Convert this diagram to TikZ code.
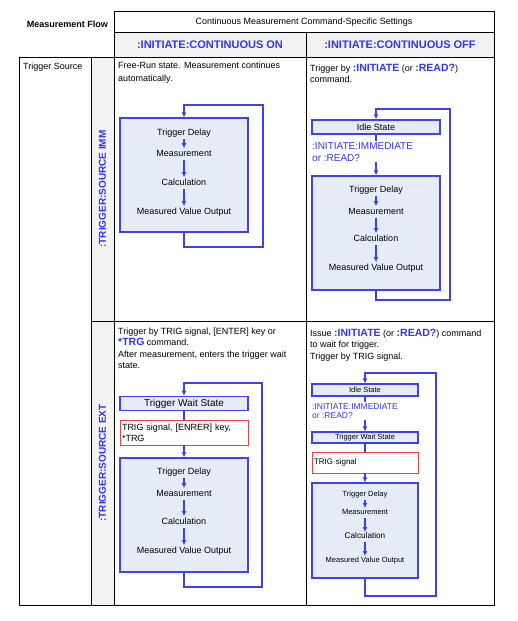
\documentclass[tikz,border=0pt]{standalone}
\usepackage{fontspec}
\setmainfont{Liberation Sans}
\usetikzlibrary{arrows.meta}
\definecolor{cmdblue}{RGB}{51,51,255}
\definecolor{flowblue}{RGB}{64,64,240}
\definecolor{boxfill}{RGB}{230,236,247}
\definecolor{headgray}{RGB}{242,242,242}
\definecolor{sigred}{RGB}{240,64,64}
\newcommand{\cmdtxt}[1]{{\fontsize{10.5}{11.5}\selectfont\bfseries\color{cmdblue}#1}}

\begin{document}
\begin{tikzpicture}[x=1pt, y=-1pt,
    grid/.style={line width=0.9pt},
    note/.style={align=left, anchor=north west, inner sep=0pt, font=\fontsize{9}{11.5}\selectfont},
    cmdbig/.style={font=\fontsize{11}{13}\selectfont\bfseries, text=cmdblue},
    srcbig/.style={rotate=90, font=\fontsize{10}{12}\selectfont\bfseries, text=cmdblue},
    cmdnote/.style={align=left, anchor=north west, inner sep=1pt, text=cmdblue},
    flowbox/.style={draw=flowblue, line width=1.1pt, fill=boxfill, inner sep=0pt},
    sigbox/.style={draw=sigred, line width=0.9pt, fill=white, align=left, inner ysep=1pt, inner xsep=2pt},
    steplabel/.style={font=\fontsize{9}{10}\selectfont, inner sep=1.5pt, text height=6.4pt, text depth=1.8pt},
    smallstep/.style={font=\fontsize{7.5}{9}\selectfont, inner sep=1.2pt, text height=5.5pt, text depth=1.6pt},
    flowline/.style={draw=flowblue, line width=1.1pt},
    flowarrow/.style={flowline, -{Latex[length=5pt,width=5pt]}}]
  \useasboundingbox (0,0) rectangle (517,621);

  \fill[headgray] (114,32) rectangle (494,57);
  \fill[headgray] (91,57) rectangle (114,605);
  \draw[grid] (114,11) rectangle (494,605);
  \draw[grid] (114,32) -- (494,32);
  \draw[grid] (19.5,57) -- (494,57);
  \draw[grid] (306,32) -- (306,605);
  \draw[grid] (19.5,57) -- (19.5,605) -- (114,605);
  \draw[grid] (91,57) -- (91,605);
  \draw[grid] (91,321) -- (494,321);

  \node[anchor=east, font=\fontsize{9}{10}\selectfont\bfseries] (flowtitle) at (111.5,24) {Measurement Flow};
  \node[font=\fontsize{9}{10}\selectfont] (settings) at (304,22) {Continuous Measurement Command-Specific Settings};
  \node[cmdbig] (conton) at (210,44.5) {:INITIATE:CONTINUOUS ON};
  \node[cmdbig] (contoff) at (400,44.5) {:INITIATE:CONTINUOUS OFF};
  \node[anchor=west, inner sep=0pt, font=\fontsize{9}{10}\selectfont] (trigsrc) at (23,67) {Trigger Source};
  \node[srcbig] (srcimm) at (102.5,189) {:TRIGGER:SOURCE IMM};
  \node[srcbig] (srcext) at (102.5,463) {:TRIGGER:SOURCE EXT};

  % continuous on, immediate
  \node[note, font=\fontsize{9}{13}\selectfont] (note1) at (118,61.5) {Free-Run state. Measurement continues\\automatically.};
  \node[flowbox, minimum width=128pt, minimum height=114pt] (box1) at (184,175) {};
  \node[steplabel] (td1) at (184,133) {Trigger Delay};
  \node[steplabel] (ms1) at (184,154) {Measurement};
  \node[steplabel] (ca1) at (184,183) {Calculation};
  \node[steplabel] (mv1) at (184,212) {Measured Value Output};
  \draw[flowarrow] (td1) -- (ms1);
  \draw[flowarrow] (ms1) -- (ca1);
  \draw[flowarrow] (ca1) -- (mv1);
  \coordinate (r1a) at (263,247);
  \coordinate (r1b) at (263,105);
  \draw[flowarrow] (box1.south) |- (r1a) -- (r1b) -| (box1.north);

  % continuous off, immediate
  \node[note] (note2) at (310,63.5) {Trigger by \cmdtxt{:INITIATE} (or \cmdtxt{:READ?})\\command.};
  \node[flowbox, minimum width=128pt, minimum height=14pt, font=\fontsize{9}{10}\selectfont] (idle2) at (376,127) {Idle State};
  \node[cmdnote, font=\fontsize{10}{12}\selectfont] (cmd2) at (311,141) {:INITIATE:IMMEDIATE\\or :READ?};
  \node[flowbox, minimum width=128pt, minimum height=114pt] (box2) at (376,233) {};
  \node[steplabel] (td2) at (376,190) {Trigger Delay};
  \node[steplabel] (ms2) at (376,212) {Measurement};
  \node[steplabel] (ca2) at (376,239) {Calculation};
  \node[steplabel] (mv2) at (376,268) {Measured Value Output};
  \draw[flowarrow] (td2) -- (ms2);
  \draw[flowarrow] (ms2) -- (ca2);
  \draw[flowarrow] (ca2) -- (mv2);
  \draw[flowline] (idle2) -- (idle2 |- cmd2.north);
  \draw[flowarrow] (idle2 |- cmd2.south) -- (box2);
  \coordinate (r2a) at (450,300);
  \coordinate (r2b) at (450,109);
  \draw[flowarrow] (box2.south) |- (r2a) -- (r2b) -| (idle2.north);

  % continuous on, external
  \node[note] (note3) at (118,327.5) {Trigger by TRIG signal, [ENTER] key or\\\cmdtxt{*TRG} command.\\After measurement, enters the trigger wait\\state.};
  \node[flowbox, minimum width=128pt, minimum height=14pt, font=\fontsize{10}{12}\selectfont] (wait3) at (184,403.5) {Trigger Wait State};
  \node[sigbox, text width=124pt, minimum height=25pt, font=\fontsize{9}{11}\selectfont] (trig3) at (184,432.5) {TRIG signal, [ENRER] key,\\{}*TRG};
  \node[flowbox, minimum width=128pt, minimum height=114pt] (box3) at (184,515) {};
  \node[steplabel] (td3) at (184,472) {Trigger Delay};
  \node[steplabel] (ms3) at (184,494) {Measurement};
  \node[steplabel] (ca3) at (184,522) {Calculation};
  \node[steplabel] (mv3) at (184,551) {Measured Value Output};
  \draw[flowarrow] (td3) -- (ms3);
  \draw[flowarrow] (ms3) -- (ca3);
  \draw[flowarrow] (ca3) -- (mv3);
  \draw[flowline] (wait3) -- (trig3);
  \draw[flowarrow] (trig3) -- (box3);
  \coordinate (r3a) at (262,587);
  \coordinate (r3b) at (262,383);
  \draw[flowarrow] (box3.south) |- (r3a) -- (r3b) -| (wait3.north);

  % continuous off, external
  \node[note] (note4) at (310,328.5) {Issue \cmdtxt{:INITIATE} (or \cmdtxt{:READ?}) command\\to wait for trigger.\\Trigger by TRIG signal.};
  \node[flowbox, minimum width=106pt, minimum height=12pt, font=\fontsize{7.5}{9}\selectfont] (idle4) at (365,390) {Idle State};
  \node[cmdnote, font=\fontsize{8.5}{9.5}\selectfont] (cmd4) at (311,402) {:INITIATE:IMMEDIATE\\or :READ?};
  \node[flowbox, minimum width=106pt, minimum height=11pt, font=\fontsize{7.5}{9}\selectfont] (wait4) at (365,437.5) {Trigger Wait State};
  \node[sigbox, text width=102pt, minimum height=21pt, font=\fontsize{8}{10}\selectfont] (trig4) at (365,462.5) {TRIG signal};
  \node[flowbox, minimum width=106pt, minimum height=95pt] (box4) at (365,530.5) {};
  \node[smallstep] (td4) at (365,495) {Trigger Delay};
  \node[smallstep] (ms4) at (365,513) {Measurement};
  \node[smallstep, font=\fontsize{8.2}{10}\selectfont] (ca4) at (365,537) {Calculation};
  \node[smallstep] (mv4) at (365,561) {Measured Value Output};
  \draw[flowarrow] (td4) -- (ms4);
  \draw[flowarrow] (ms4) -- (ca4);
  \draw[flowarrow] (ca4) -- (mv4);
  \draw[flowline] (idle4) -- (idle4 |- cmd4.north);
  \draw[flowarrow] (idle4 |- cmd4.south) -- (wait4);
  \draw[flowline] (wait4) -- (trig4);
  \draw[flowarrow] (trig4) -- (box4);
  \coordinate (r4a) at (436,596);
  \coordinate (r4b) at (436,373);
  \draw[flowarrow] (box4.south) |- (r4a) -- (r4b) -| (idle4.north);
\end{tikzpicture}
\end{document}
